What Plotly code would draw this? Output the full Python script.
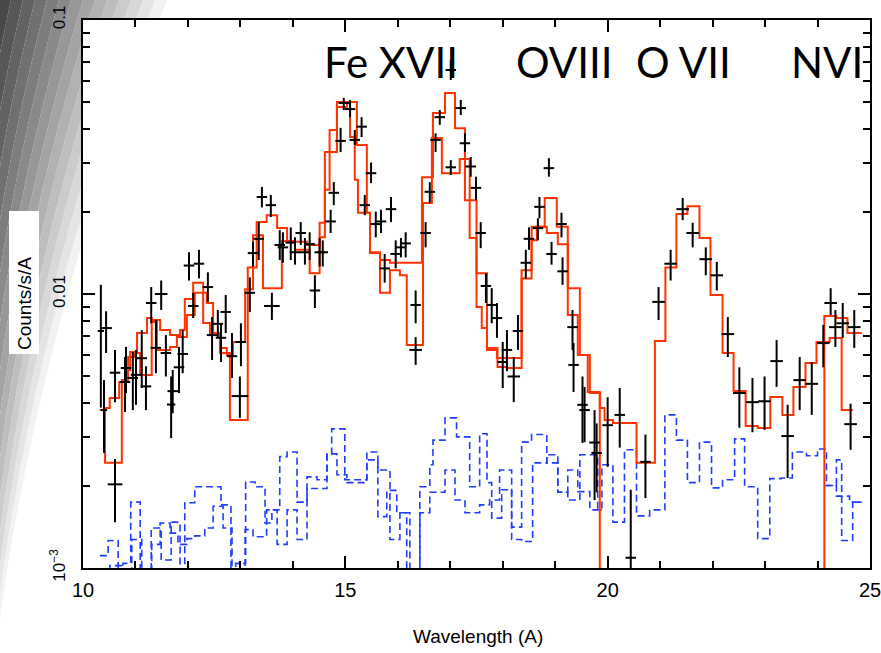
import plotly.graph_objects as go

# ---------------- data: observed spectrum (wavelength in A, counts/s/A) ----------------
WL = [10.34, 10.44, 10.40, 10.61, 10.61, 10.80, 10.82, 10.95, 11.01, 11.12,
      11.20, 11.30, 11.39, 11.49, 11.58, 11.68, 11.71, 11.83, 11.90, 12.02,
      12.10, 12.21, 12.38, 12.46, 12.57, 12.63, 12.72, 12.84, 12.99, 13.01,
      13.18, 13.24, 13.35, 13.41, 13.58, 13.60, 13.75, 13.81, 13.96, 14.04,
      14.15, 14.23, 14.32, 14.42, 14.51, 14.57, 14.72, 14.78, 14.91, 14.97,
      15.09, 15.18, 15.31, 15.37, 15.49, 15.58, 15.68, 15.75, 15.87, 15.96,
      16.06, 16.15, 16.34, 16.34, 16.53, 16.61, 16.72, 16.80, 17.01, 17.01,
      17.20, 17.28, 17.39, 17.49, 17.58, 17.68, 17.79, 17.89, 18.00, 18.08,
      18.21, 18.29, 18.44, 18.50, 18.67, 18.70, 18.88, 18.93, 19.12, 19.14,
      19.33, 19.35, 19.52, 19.56, 19.75, 19.79, 20.00, 20.23, 20.44, 20.72,
      20.97, 21.20, 21.43, 21.62, 21.87, 22.08, 22.29, 22.51, 22.76, 22.99,
      23.22, 23.43, 23.66, 23.89, 24.11, 24.25, 24.34, 24.48, 24.70, 24.63]

WL_ERR = [0.06, 0.11, 0.06, 0.14, 0.10, 0.10, 0.10, 0.10, 0.10, 0.10,
          0.10, 0.10, 0.10, 0.12, 0.10, 0.08, 0.10, 0.10, 0.10, 0.10,
          0.10, 0.10, 0.10, 0.10, 0.10, 0.10, 0.10, 0.10, 0.16, 0.10,
          0.10, 0.10, 0.10, 0.10, 0.10, 0.15, 0.10, 0.10, 0.10, 0.10,
          0.10, 0.10, 0.10, 0.10, 0.10, 0.10, 0.10, 0.10, 0.10, 0.10,
          0.10, 0.10, 0.10, 0.10, 0.10, 0.10, 0.10, 0.10, 0.10, 0.10,
          0.10, 0.10, 0.10, 0.12, 0.10, 0.10, 0.10, 0.10, 0.10, 0.10,
          0.10, 0.10, 0.10, 0.10, 0.10, 0.10, 0.10, 0.10, 0.10, 0.10,
          0.12, 0.10, 0.10, 0.10, 0.10, 0.10, 0.10, 0.10, 0.10, 0.10,
          0.10, 0.10, 0.10, 0.10, 0.10, 0.10, 0.10, 0.10, 0.10, 0.10,
          0.12, 0.12, 0.12, 0.12, 0.12, 0.12, 0.12, 0.12, 0.12, 0.12,
          0.12, 0.12, 0.12, 0.12, 0.12, 0.12, 0.12, 0.12, 0.12, 0.12]

RATE = [0.00733, 0.00751, 0.00377, 0.00202, 0.00516, 0.00477, 0.00537, 0.00494, 0.00507, 0.00583,
        0.00460, 0.00927, 0.00636, 0.0100, 0.00609, 0.00395, 0.00442, 0.00540, 0.00604, 0.0127,
        0.00904, 0.0129, 0.0106, 0.00708, 0.00778, 0.00692, 0.00860, 0.00593, 0.00424, 0.00668,
        0.0101, 0.0141, 0.0159, 0.0226, 0.0211, 0.00904, 0.0151, 0.0148, 0.0154, 0.0142,
        0.0167, 0.0142, 0.0152, 0.0103, 0.0142, 0.0142, 0.0184, 0.0234, 0.0362, 0.0498,
        0.0473, 0.0365, 0.0408, 0.0211, 0.0276, 0.0180, 0.0184, 0.0124, 0.0204, 0.0140,
        0.0148, 0.0153, 0.00912, 0.00625, 0.0167, 0.0236, 0.0365, 0.0442, 0.0290, 0.0657,
        0.0477, 0.0355, 0.0292, 0.0244, 0.0167, 0.0107, 0.00912, 0.00817, 0.00565, 0.00625,
        0.00500, 0.00733, 0.0130, 0.0159, 0.0174, 0.0208, 0.0288, 0.0140, 0.0180, 0.0121,
        0.00757, 0.00551, 0.00394, 0.00377, 0.00287, 0.00263, 0.00332, 0.00362, 0.00109, 0.00244,
        0.00936, 0.0129, 0.0204, 0.0167, 0.0134, 0.0117, 0.00714, 0.00435, 0.00403, 0.00406,
        0.00569, 0.00303, 0.00485, 0.00470, 0.00662, 0.00927, 0.00757, 0.00782, 0.00757, 0.00335]

RATE_HI = [0.0108, 0.00865, 0.00485, 0.00250, 0.00625, 0.00589, 0.00641, 0.00614, 0.00625, 0.00738,
           0.00545, 0.0106, 0.00804, 0.0112, 0.00708, 0.00500, 0.00528, 0.00641, 0.00738, 0.0142,
           0.0101, 0.0145, 0.0120, 0.00824, 0.00874, 0.00782, 0.00992, 0.00720, 0.00500, 0.00782,
           0.0115, 0.0155, 0.0183, 0.0246, 0.0230, 0.0101, 0.0171, 0.0168, 0.0175, 0.0161,
           0.0183, 0.0160, 0.0168, 0.0117, 0.0160, 0.0157, 0.0203, 0.0256, 0.0404, 0.0520,
           0.0511, 0.0397, 0.0442, 0.0230, 0.0302, 0.0200, 0.0203, 0.0140, 0.0226, 0.0157,
           0.0160, 0.0168, 0.0103, 0.00696, 0.0183, 0.0256, 0.0386, 0.0469, 0.0308, 0.0714,
           0.0511, 0.0386, 0.0316, 0.0268, 0.0183, 0.0119, 0.0105, 0.00927, 0.00668, 0.00739,
           0.00589, 0.00838, 0.0145, 0.0175, 0.0189, 0.0226, 0.0313, 0.0155, 0.0198, 0.0136,
           0.00874, 0.00662, 0.00500, 0.00458, 0.00377, 0.00337, 0.00420, 0.00454, 0.00193, 0.00307,
           0.0106, 0.0145, 0.0224, 0.0182, 0.0148, 0.0131, 0.00824, 0.00540, 0.00494, 0.00500,
           0.00679, 0.00394, 0.00589, 0.00565, 0.00771, 0.0105, 0.00874, 0.00927, 0.00874, 0.00398]

RATE_LO = [0.00385, 0.00609, 0.00263, 0.00147, 0.00403, 0.00371, 0.00435, 0.00377, 0.00394, 0.00454,
           0.00377, 0.00782, 0.00514, 0.00874, 0.00500, 0.00298, 0.00367, 0.00435, 0.00514, 0.0112,
           0.00817, 0.0114, 0.00936, 0.00574, 0.00692, 0.00565, 0.00720, 0.00494, 0.00353, 0.00545,
           0.00860, 0.0126, 0.0133, 0.0207, 0.0191, 0.00804, 0.0133, 0.0130, 0.0133, 0.0128,
           0.0151, 0.0128, 0.0133, 0.00889, 0.0126, 0.0126, 0.0167, 0.0211, 0.0330, 0.0469,
           0.0442, 0.0350, 0.0374, 0.0194, 0.0254, 0.0161, 0.0167, 0.0110, 0.0183, 0.0124,
           0.0136, 0.0136, 0.00782, 0.00551, 0.0148, 0.0215, 0.0330, 0.0414, 0.0272, 0.0604,
           0.0450, 0.0330, 0.0268, 0.0220, 0.0147, 0.00927, 0.00782, 0.00692, 0.00454, 0.00523,
           0.00403, 0.00625, 0.0114, 0.0145, 0.0157, 0.0189, 0.0268, 0.0128, 0.0161, 0.0108,
           0.00625, 0.00439, 0.00286, 0.00288, 0.00177, 0.00189, 0.00234, 0.00275, 0.00025, 0.00180,
           0.00804, 0.0112, 0.0186, 0.0148, 0.0117, 0.0103, 0.00589, 0.00325, 0.00313, 0.00319,
           0.00458, 0.00213, 0.00377, 0.00362, 0.00540, 0.00838, 0.00641, 0.00692, 0.00636, 0.00270]

# ---------------- models (step histograms: bin edges + bin values) ----------------
M1_EDGES = [10.32, 10.42, 10.74, 10.86, 10.99, 11.09, 11.31, 11.41, 11.66, 11.79,
            11.98, 12.13, 12.29, 12.42, 12.61, 12.80, 13.14, 13.24, 13.43, 13.79,
            14.04, 14.32, 14.51, 14.61, 14.70, 14.84, 15.03, 15.09, 15.18, 15.24,
            15.47, 15.66, 15.85, 16.04, 16.17, 16.48, 16.65, 16.84, 17.18, 17.37,
            17.50, 17.60, 17.70, 17.90, 18.08, 18.36, 18.55, 18.65, 18.80, 19.03,
            19.24, 19.47, 19.66, 19.85, 19.94, 20.10, 20.55, 20.90, 21.10, 21.31,
            21.52, 21.75, 21.96, 22.19, 22.40, 22.63, 22.86, 23.10, 23.33, 23.54,
            23.77, 23.98, 24.23, 24.46, 24.67]
M1_VALUES = [0.00377, 0.00242, 0.00485, 0.00589, 0.00609, 0.00506, 0.00790, 0.00625, 0.00641, 0.00697,
             0.00838, 0.0101, 0.00784, 0.00721, 0.00609, 0.00347, 0.0125, 0.0164, 0.0105, 0.0156,
             0.0145, 0.0119, 0.0161, 0.0240, 0.0330, 0.0481, 0.0502, 0.0374, 0.0261, 0.0198,
             0.0142, 0.0101, 0.0122, 0.0117, 0.00652, 0.0215, 0.0371, 0.0276, 0.0311, 0.0160,
             0.00897, 0.00752, 0.00635, 0.00542, 0.00537, 0.0114, 0.0157, 0.0176, 0.0224, 0.0176,
             0.0105, 0.00599, 0.00435, 0.00384, 0.00347, 0.00338, 0.00242, 0.00674, 0.0125, 0.0196,
             0.0209, 0.0160, 0.00992, 0.00609, 0.00443, 0.00330, 0.00324, 0.00421, 0.00362, 0.00458,
             0.00560, 0.00668, 0.00691, 0.00377]

M2_EDGES = [10.32, 10.42, 10.51, 10.69, 10.84, 10.90, 11.03, 11.22, 11.31, 11.47,
            11.66, 11.85, 11.94, 12.10, 12.29, 12.36, 12.48, 12.61, 12.74, 12.86,
            13.09, 13.24, 13.31, 13.50, 13.70, 13.89, 14.27, 14.51, 14.61, 14.70,
            14.84, 15.22, 15.41, 15.47, 15.66, 15.85, 16.46, 16.67, 16.90, 17.09,
            17.28, 17.50, 17.70, 17.89, 18.36, 18.55, 18.84, 19.05, 19.24, 19.43,
            19.62, 19.85, 24.13, 24.36, 24.57, 24.84]
M2_VALUES = [0.00377, 0.00384, 0.00417, 0.00477, 0.00528, 0.00614, 0.00721, 0.00818, 0.00804, 0.00739,
             0.00709, 0.00739, 0.00959, 0.0110, 0.0101, 0.00927, 0.00721, 0.00635, 0.00599, 0.00668,
             0.0104, 0.0125, 0.0183, 0.0194, 0.0174, 0.0155, 0.0151, 0.0182, 0.0330, 0.0397,
             0.0502, 0.0350, 0.0198, 0.0141, 0.0133, 0.0130, 0.0267, 0.0458, 0.0542, 0.0403,
             0.0220, 0.0119, 0.00625, 0.00584, 0.0122, 0.0176, 0.0167, 0.0152, 0.00838, 0.00599,
             0.00439, 1e-5, 0.00831, 0.00818, 0.00721]

# ---------------- background (dashed step histograms) ----------------
BG1_EDGES = [10.32, 10.48, 10.67, 10.76, 10.91, 11.09, 11.30, 11.49, 11.68, 11.85,
             11.94, 12.13, 12.38, 12.63, 12.82, 12.91, 13.10, 13.28, 13.47, 13.60,
             13.75, 13.89, 14.08, 14.27, 14.46, 14.65, 14.74, 14.99, 15.41, 15.62,
             15.79, 15.98, 16.17, 16.42, 16.61, 16.67, 16.90, 17.12, 17.37, 17.56,
             17.70, 17.79, 17.98, 18.17, 18.36, 18.55, 18.84, 19.05, 19.24, 19.43,
             19.66, 19.89, 20.10, 20.32, 20.55, 20.80, 21.09, 21.31, 21.52, 21.75,
             21.98, 22.19, 22.42, 22.61, 22.86, 23.09, 23.31, 23.52, 23.79, 24.00,
             24.17, 24.36, 24.46, 24.67, 24.84]
BG1_VALUES = [0.00111, 0.00126, 0.0008, 0.00104, 0.00174, 0.0008, 0.00140, 0.00107, 0.00147, 0.0009,
              0.00173, 0.00198, 0.00198, 0.00170, 0.0008, 0.00104, 0.00206, 0.00198, 0.00146, 0.00163,
              0.00255, 0.00265, 0.00174, 0.00215, 0.00210, 0.00261, 0.00322, 0.00210, 0.00265, 0.00154,
              0.00192, 0.00159, 0.0008, 0.00198, 0.00238, 0.00293, 0.00353, 0.00301, 0.00198, 0.00309,
              0.00205, 0.00152, 0.00193, 0.00141, 0.00288, 0.00307, 0.00242, 0.00189, 0.00228, 0.00190,
              0.00163, 0.00238, 0.00147, 0.00270, 0.00155, 0.00163, 0.00362, 0.00293, 0.00205, 0.00288,
              0.00196, 0.00210, 0.00296, 0.00198, 0.00128, 0.00212, 0.00213, 0.00265, 0.00257, 0.00272,
              0.00200, 0.00248, 0.00126, 0.00174]

BG2_EDGES_A = [10.32, 10.51, 10.74, 10.93, 11.12, 11.31, 11.47, 11.66, 11.81, 11.98,
               12.13, 12.32, 12.48, 12.67, 12.84, 13.09, 13.24, 13.50, 13.70, 13.89,
               14.08, 14.27, 14.46, 14.65, 14.84, 15.03, 15.41, 15.62, 15.85, 16.04,
               16.23, 16.42, 16.61, 16.90, 17.09, 17.28, 17.56, 17.75, 17.94, 18.17,
               18.36, 18.57, 18.84, 19.05, 19.24, 19.47, 19.81, 19.89]
BG2_VALUES_A = [0.0008, 0.00102, 0.0008, 0.00127, 0.0008, 0.00122, 0.00146, 0.00134, 0.00122, 0.00128,
                0.00131, 0.00140, 0.00168, 0.00140, 0.0008, 0.00138, 0.00130, 0.00163, 0.00122, 0.00163,
                0.00127, 0.00195, 0.00195, 0.00261, 0.00219, 0.00205, 0.00248, 0.00228, 0.00127, 0.00159,
                0.0008, 0.00159, 0.00189, 0.00228, 0.00177, 0.00159, 0.00170, 0.00177, 0.00228, 0.00127,
                0.00125, 0.00242, 0.00259, 0.00189, 0.00177, 0.00259, 0.00163]
BG2_EDGES_B = [24.13, 24.36, 24.61, 24.84]
BG2_VALUES_B = [0.00200, 0.00183, 0.00174]

LINE_LABELS = ["Fe XVII", "OVIII", "O VII", "NVI"]
LABEL_WL = [14.56, 18.22, 20.50, 23.45]

X_TICKS = [10, 15, 20, 25]
Y_TICKS = [0.001, 0.01, 0.1]
Y_TICKTEXT = ["10<sup>\u22123</sup>", "0.01", "0.1"]


def steps(edges, values):
    return list(edges), list(values) + [values[-1]]


RED = "#ff3300"
BLUE = "#1f3cff"

fig = go.Figure()

# background
bx1, by1 = steps(BG1_EDGES, BG1_VALUES)
xa, ya = steps(BG2_EDGES_A, BG2_VALUES_A)
xb, yb = steps(BG2_EDGES_B, BG2_VALUES_B)
for bx, by in [(bx1, by1), (xa + [None] + xb, ya + [None] + yb)]:
    fig.add_trace(go.Scatter(x=bx, y=by, mode="lines", connectgaps=False,
                             line=dict(color=BLUE, width=1.6, dash="7px,4px", shape="hv"),
                             hoverinfo="skip"))

# models
for e, v in [(M1_EDGES, M1_VALUES), (M2_EDGES, M2_VALUES)]:
    mx, my = steps(e, v)
    fig.add_trace(go.Scatter(x=mx, y=my, mode="lines",
                             line=dict(color=RED, width=2, shape="hv"), hoverinfo="skip"))

# data crosses
err_plus = [h - y for h, y in zip(RATE_HI, RATE)]
err_minus = [y - l for y, l in zip(RATE, RATE_LO)]
fig.add_trace(go.Scatter(
    x=WL, y=RATE, mode="markers",
    marker=dict(size=1, color="black"),
    error_x=dict(type="data", array=WL_ERR, color="black", thickness=2, width=0),
    error_y=dict(type="data", symmetric=False, array=err_plus, arrayminus=err_minus,
                 color="black", thickness=2, width=0),
))

# ---------------- decoration: grey diagonal slide stripes ----------------
L, R, T, B = 83, 870, 20, 568
PW, PH = R - L, B - T


def to_paper(px, py):
    return (px - L) / PW, (B - py) / PH


def x_edge(py):
    return 167 - 0.40 * py + 0.00021 * py * py


def band_w(py):
    return 12 - 0.014 * py


shapes = []
pys = list(range(0, 681, 20))
NB = 16
for k in range(NB):
    g = max(242 - 13 * k, 62)
    right = [(x_edge(p) - k * band_w(p), p) for p in pys]
    if k == NB - 1:
        left = [(-400, p) for p in pys]
    else:
        left = [(x_edge(p) - (k + 1) * band_w(p), p) for p in pys]
    pts = right + left[::-1]
    path = "M " + " L ".join("%.5f,%.5f" % to_paper(x, y) for x, y in pts) + " Z"
    shapes.append(dict(type="path", path=path, xref="paper", yref="paper",
                       fillcolor="rgb(%d,%d,%d)" % (g, g, g), line=dict(width=0), layer="below"))

# white plot area over the stripes
shapes.append(dict(type="rect", xref="paper", yref="paper", x0=0, x1=1, y0=0, y1=1,
                   fillcolor="white", line=dict(width=0), layer="below"))
# white box behind the y label
bx0, by0 = to_paper(9, 354)
bx1_, by1_ = to_paper(39, 211)
shapes.append(dict(type="rect", xref="paper", yref="paper", x0=bx0, x1=bx1_, y0=by0, y1=by1_,
                   fillcolor="white", line=dict(width=0), layer="above"))

annotations = []
for lab, wl in zip(LINE_LABELS, LABEL_WL):
    annotations.append(dict(text=lab, x=wl, xref="x", y=to_paper(0, 62)[1], yref="paper",
                            xanchor="left", yanchor="middle", showarrow=False,
                            font=dict(family="Lato", size=42, color="black")))
annotations.append(dict(text="Counts/s/A", x=to_paper(25, 0)[0], y=to_paper(0, 304)[1],
                        xref="paper", yref="paper", textangle=-90, showarrow=False,
                        xanchor="center", yanchor="middle",
                        font=dict(family="Liberation Sans", size=19, color="black")))
annotations.append(dict(text="Wavelength (A)", x=to_paper(478, 0)[0], y=to_paper(0, 636)[1],
                        xref="paper", yref="paper", showarrow=False,
                        xanchor="center", yanchor="middle",
                        font=dict(family="Liberation Sans", size=19, color="black")))

axis_common = dict(showline=True, linewidth=2, linecolor="black", mirror="allticks",
                   ticks="inside", ticklen=12, tickwidth=1.5, tickcolor="black",
                   showgrid=False, zeroline=False, automargin=False,
                   ticklabeloverflow="allow")

fig.update_layout(
    width=881, height=653,
    margin=dict(l=L, r=881 - R, t=T, b=653 - B, autoexpand=False),
    paper_bgcolor="white", plot_bgcolor="white",
    showlegend=False,
    shapes=shapes, annotations=annotations,
    xaxis=dict(range=[10, 25], tickvals=X_TICKS, ticktext=[str(t) for t in X_TICKS],
               tickfont=dict(family="Liberation Sans", size=20, color="black"),
               ticklabelstandoff=3,
               minor=dict(tickvals=[11, 12, 13, 14, 16, 17, 18, 19, 21, 22, 23, 24],
                          ticks="inside", ticklen=7, tickwidth=1.5, tickcolor="black"),
               **axis_common),
    yaxis=dict(type="log", range=[-3, -1], tickvals=Y_TICKS, ticktext=Y_TICKTEXT,
               tickangle=-90, ticklabelstandoff=9,
               tickfont=dict(family="Liberation Sans", size=17, color="black"),
               minor=dict(tickvals=[0.002, 0.003, 0.004, 0.005, 0.006, 0.007, 0.008, 0.009,
                                    0.02, 0.03, 0.04, 0.05, 0.06, 0.07, 0.08, 0.09],
                          ticks="inside", ticklen=7, tickwidth=1.5, tickcolor="black"),
               **axis_common),
)

fig.write_html("out.html")
